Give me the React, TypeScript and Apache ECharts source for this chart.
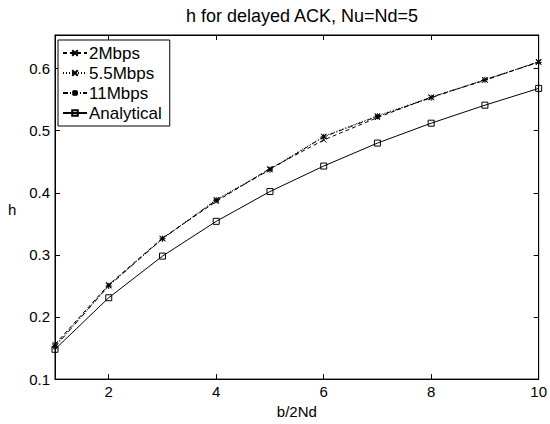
import React, { useEffect, useRef } from "react";
import * as echarts from "echarts";

const xValues = [1, 2, 3, 4, 5, 6, 7, 8, 9, 10];
const mbps2 = [0.156, 0.252, 0.327, 0.386, 0.439, 0.485, 0.521, 0.554, 0.581, 0.611];
const mbps55 = [0.154, 0.251, 0.326, 0.389, 0.438, 0.491, 0.524, 0.554, 0.582, 0.611];
const mbps11 = [0.152, 0.250, 0.326, 0.388, 0.437, 0.490, 0.523, 0.553, 0.582, 0.610];
const analytical = [0.148, 0.231, 0.298, 0.354, 0.402, 0.443, 0.480, 0.512, 0.541, 0.568];
const xTicks = [2, 4, 6, 8, 10];
const yTicks = [0.1, 0.2, 0.3, 0.4, 0.5, 0.6];

const FONT = "Liberation Sans, Arial, Helvetica, sans-serif";
const X_SYM = "path://M0,0L10,10M10,0L0,10";
const STAR_SYM = "path://M0,0L10,10M10,0L0,10M5,-1L5,11M-1,5L11,5";
const SQ_SYM = "path://M0,0L10,0L10,10L0,10Z";

export default function App() {
  const ref = useRef<HTMLDivElement>(null);
  useEffect(() => {
    if (!ref.current) return;
    const chart = echarts.init(ref.current, undefined, { renderer: "svg" });
    const pair = (arr: number[]) => arr.map((v, i) => [xValues[i], v]);
    const mk = (name: string, data: number[], type: any, symbol: string, size: number) => ({
      name,
      type: "line",
      data: pair(data),
      symbol,
      symbolSize: size,
      showSymbol: true,
      lineStyle: { color: "#000", width: 1, type },
      itemStyle: { color: "rgba(0,0,0,0)", borderColor: "#000", borderWidth: 1 },
      emphasis: { disabled: true },
    });
    const tickStyle = { show: true, inside: true, length: 5, lineStyle: { color: "#000", width: 1 } };
    chart.setOption({
      animation: false,
      backgroundColor: "#fff",
      textStyle: { fontFamily: FONT },
      title: {
        text: "h for delayed ACK, Nu=Nd=5",
        left: 297,
        textAlign: "center",
        top: 2,
        textStyle: { fontFamily: FONT, fontSize: 18, fontWeight: "normal", color: "#000" },
      },
      grid: {
        left: 55,
        right: 11,
        top: 35,
        bottom: 41,
        show: true,
        borderColor: "#000",
        borderWidth: 1,
        backgroundColor: "#fff",
      },
      legend: {
        orient: "vertical",
        left: 58,
        top: 40,
        backgroundColor: "#fff",
        borderColor: "#000",
        borderWidth: 1,
        padding: [3, 8, 3, 4],
        itemGap: 0,
        itemWidth: 24,
        itemHeight: 7,
        textStyle: { fontFamily: FONT, fontSize: 17, color: "#000", padding: [0, 0, 0, -3], lineHeight: 20 },
        data: ["2Mbps", "5.5Mbps", "11Mbps", "Analytical"],
      },
      xAxis: [
        {
          type: "value",
          min: 1,
          max: 10,
          name: "b/2Nd",
          nameLocation: "middle",
          nameGap: 20,
          nameTextStyle: { fontFamily: FONT, fontSize: 15, color: "#000" },
          axisLine: { show: true, lineStyle: { color: "#000" } },
          axisTick: { ...tickStyle, customValues: xTicks },
          axisLabel: { customValues: xTicks, color: "#000", fontSize: 15, fontFamily: FONT, margin: 5 },
          splitLine: { show: false },
        },
        {
          type: "value",
          position: "top",
          min: 1,
          max: 10,
          axisLine: { show: true, lineStyle: { color: "#000" } },
          axisTick: { ...tickStyle, customValues: xTicks },
          axisLabel: { show: false },
          splitLine: { show: false },
        },
      ],
      yAxis: [
        {
          type: "value",
          min: 0.1,
          max: 0.654,
          axisLine: { show: true, lineStyle: { color: "#000" } },
          axisTick: { ...tickStyle, customValues: yTicks },
          axisLabel: {
            customValues: yTicks,
            color: "#000",
            fontSize: 15,
            fontFamily: FONT,
            margin: 5,
            formatter: (v: number) => v.toFixed(1),
          },
          splitLine: { show: false },
        },
        {
          type: "value",
          position: "right",
          min: 0.1,
          max: 0.654,
          axisLine: { show: true, lineStyle: { color: "#000" } },
          axisTick: { ...tickStyle, customValues: yTicks },
          axisLabel: { show: false },
          splitLine: { show: false },
        },
      ],
      graphic: [
        {
          type: "text",
          left: 8,
          top: 202,
          style: { text: "h", fontFamily: FONT, fontSize: 15, fill: "#000" },
        },
      ],
      series: [
        mk("2Mbps", mbps2, [4, 3], X_SYM, 5),
        mk("5.5Mbps", mbps55, [1, 2], X_SYM, 5),
        mk("11Mbps", mbps11, [5, 2, 1, 2], STAR_SYM, 6),
        mk("Analytical", analytical, "solid", SQ_SYM, 6),
      ],
    });
    return () => chart.dispose();
  }, []);
  return (
    <div
      ref={ref}
      style={{ position: "fixed", left: 0, top: 0, width: 550, height: 424 }}
    />
  );
}
